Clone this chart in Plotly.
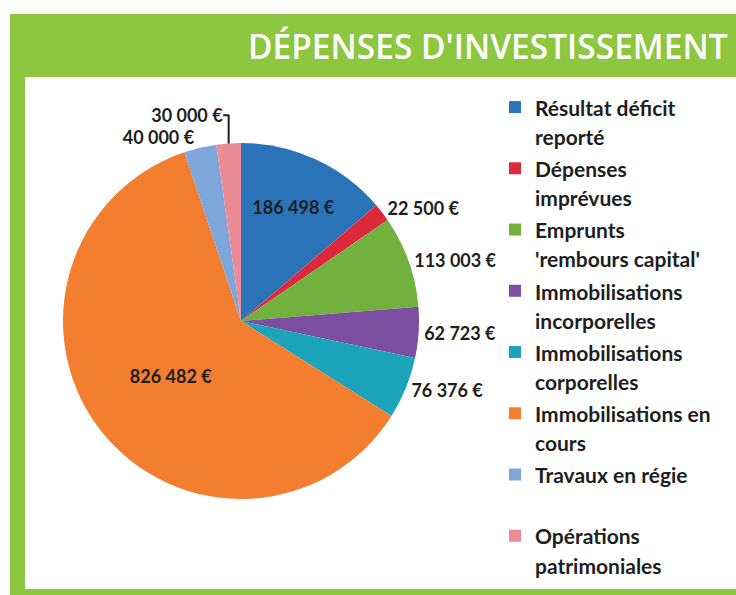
import plotly.graph_objects as go

categories = [
    "Résultat déficit<br>reporté",
    "Dépenses<br>imprévues",
    "Emprunts<br>'rembours capital'",
    "Immobilisations<br>incorporelles",
    "Immobilisations<br>corporelles",
    "Immobilisations en<br>cours",
    "Travaux en régie<br> ",
    "Opérations<br>patrimoniales",
]
values = [186498, 22500, 113003, 62723, 76376, 826482, 40000, 30000]
colors = ["#2B73B9", "#DC2A3C", "#73B13E", "#7B4EA0", "#1CA4BA",
          "#F37E30", "#7EA6DA", "#EA8B96"]
text_positions = ["inside", "outside", "outside", "outside", "outside",
                  "inside", "outside", "outside"]

W, H = 736, 595
GREEN = "#8DC63F"


def px(x):
    return x / W


def py(y):
    return (H - y) / H


def legend_name(label, size=21):
    return "<br>".join(
        f"<span style='font-size:{size}px'>{line}</span>"
        for line in label.split("<br>")
    )


def band(x0, x1, y0, y1):
    return dict(type="rect", xref="paper", yref="paper", layer="below",
                x0=x0, x1=x1, y0=y0, y1=y1,
                fillcolor=GREEN, line=dict(width=0))


cx, cy, r = 241, 321, 178

fig = go.Figure(go.Pie(
    labels=[legend_name(c) for c in categories],
    values=values,
    sort=False,
    direction="clockwise",
    rotation=0,
    marker=dict(colors=colors, line=dict(width=0)),
    texttemplate="%{value:,} €",
    textposition=text_positions,
    insidetextorientation="horizontal",
    textfont=dict(family="Lato", size=18, color="#1e1e1e", weight="bold"),
    hoverinfo="value",
    domain=dict(x=[px(cx - r), px(cx + r)], y=[py(cy + r), py(cy - r)]),
))

fig.update_layout(
    width=W, height=H,
    margin=dict(l=0, r=0, t=0, b=0),
    paper_bgcolor="white",
    separators=", ",
    showlegend=True,
    legend=dict(
        x=px(495), y=py(86), xanchor="left", yanchor="top",
        font=dict(family="Lato", size=22.4, color="#1e1e1e", weight="bold"),
        valign="top", bgcolor="rgba(0,0,0,0)", itemwidth=30,
    ),
    shapes=[
        band(px(10), 1.05, py(77), py(14)),      # top title band
        band(px(10), px(25), -0.05, py(14)),     # left bar
        band(px(10), 1.05, -0.05, py(589)),      # bottom bar
    ],
    annotations=[
        dict(text="DÉPENSES D'INVESTISSEMENT", xref="paper", yref="paper",
             x=px(730), y=py(46), xanchor="right", yanchor="middle",
             showarrow=False,
             font=dict(family="Open Sans", size=33.5, color="white", weight=600)),
    ],
)

fig.write_html(
    "out.html",
    config={"displayModeBar": False},
    post_script="document.body.style.margin='0';"
                "document.body.style.overflow='hidden';",
)
